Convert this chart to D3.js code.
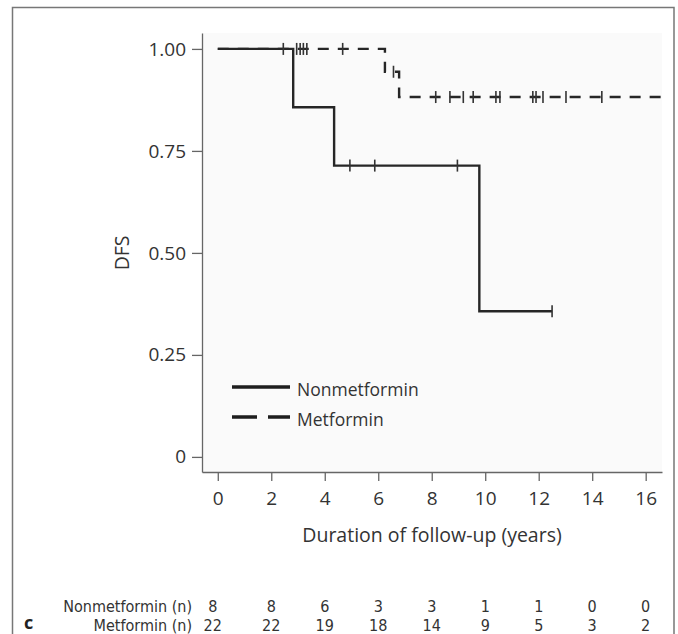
<!DOCTYPE html>
<html>
<head>
<meta charset="utf-8">
<script src="https://cdn.jsdelivr.net/npm/d3@7"></script>
<style>
  body { margin: 0; background: #fff; }
  svg { display: block; }
  .axis text { font-family: "Open Sans", sans-serif; font-size: 19px; fill: #333; }
  .axis path, .axis line { stroke: #666; stroke-width: 1.3px; }
  .lbl { font-family: "Open Sans", sans-serif; font-size: 19.5px; fill: #333; }
  .risk { font-family: "Liberation Sans Narrow", "DejaVu Sans Condensed", sans-serif; font-stretch: condensed; font-size: 16px; fill: #333; }
</style>
</head>
<body>
<svg id="chart"></svg>
<script>
// x axis ticks (years) and y axis ticks (DFS)
const timeTicks = [0, 2, 4, 6, 8, 10, 12, 14, 16];
const survTicks = [0, 0.25, 0.5, 0.75, 1];
const groups = ['Nonmetformin', 'Metformin'];

// Kaplan-Meier step points
const nonmetSteps = [
  { t: 0, s: 1 }, { t: 2.82, s: 0.857 }, { t: 4.35, s: 0.714 },
  { t: 9.78, s: 0.357 }, { t: 12.5, s: 0.357 }
];
const metSteps = [
  { t: 0, s: 1 }, { t: 6.25, s: 0.944 }, { t: 6.78, s: 0.882 }, { t: 16.6, s: 0.882 }
];

// censored observations
const nonmetCensored = [2.45, 4.94, 5.87, 8.96, 12.5];
const metCensored = [2.95, 3.08, 3.2, 3.33, 4.67, 6.57, 8.15, 8.68, 9.18, 9.55,
  10.4, 10.55, 11.78, 11.9, 12.16, 13.02, 14.36];

// numbers at risk at each x tick
const nonmetAtRisk = [8, 8, 6, 3, 3, 1, 1, 0, 0];
const metAtRisk = [22, 22, 19, 18, 14, 9, 5, 3, 2];

const width = 678, height = 634;
const svg = d3.select('#chart').attr('width', width).attr('height', height);

// outer frame (bottom edge cut off)
svg.append('path')
  .attr('d', `M12.5,634 V7.5 H674 V634`)
  .attr('fill', 'none')
  .attr('stroke', '#777')
  .attr('stroke-width', 1.5);

const xScale = d3.scaleLinear().domain([-0.59, 16.61]).range([202, 662]);
const yScale = d3.scaleLinear().domain([-0.037, 1.039]).range([472, 33]);

// plot background
svg.append('rect')
  .attr('x', xScale.range()[0]).attr('y', yScale.range()[1])
  .attr('width', xScale.range()[1] - xScale.range()[0])
  .attr('height', yScale.range()[0] - yScale.range()[1])
  .attr('fill', '#fafafa');

const xAxis = d3.axisBottom(xScale).tickValues(timeTicks)
  .tickSize(9).tickSizeOuter(0).tickPadding(11).tickFormat(d3.format('d'));
const yAxis = d3.axisLeft(yScale).tickValues(survTicks)
  .tickSize(10).tickSizeOuter(0).tickPadding(6)
  .tickFormat(d => d === 0 ? '0' : d3.format('.2f')(d));

svg.append('g').attr('class', 'axis')
  .attr('transform', `translate(0,${yScale.range()[0]})`)
  .call(xAxis);
svg.append('g').attr('class', 'axis')
  .attr('transform', `translate(${xScale.range()[0]},0)`)
  .call(yAxis);

// axis titles
svg.append('text').attr('class', 'lbl')
  .attr('x', 432).attr('y', 542).attr('text-anchor', 'middle')
  .text('Duration of follow-up (years)');
svg.append('text').attr('class', 'lbl')
  .attr('transform', `translate(129,${yScale(0.5)}) rotate(-90)`)
  .attr('text-anchor', 'middle')
  .text('DFS');

const line = d3.line()
  .curve(d3.curveStepAfter)
  .x(d => xScale(d.t))
  .y(d => yScale(d.s));

const series = [
  { name: groups[0], steps: nonmetSteps, censored: nonmetCensored, dash: null },
  { name: groups[1], steps: metSteps, censored: metCensored, dash: '11,9' }
];

const bisect = d3.bisector(d => d.t).right;
const survAt = (steps, t) => steps[Math.max(0, bisect(steps, t) - 1)].s;

const curves = svg.append('g');
series.slice().reverse().forEach(sr => {
  curves.append('path')
    .attr('d', line(sr.steps))
    .attr('fill', 'none')
    .attr('stroke', '#262626')
    .attr('stroke-width', 2.4)
    .attr('stroke-dasharray', sr.dash);

  curves.selectAll(null)
    .data(sr.censored)
    .enter()
    .append('line')
    .attr('x1', d => xScale(d)).attr('x2', d => xScale(d))
    .attr('y1', d => yScale(survAt(sr.steps, d)) - 6)
    .attr('y2', d => yScale(survAt(sr.steps, d)) + 6)
    .attr('stroke', '#333')
    .attr('stroke-width', 1.6);
});

// legend
const legend = svg.append('g').attr('transform', 'translate(232,387)');
series.forEach((sr, i) => {
  const g = legend.append('g').attr('transform', `translate(0,${i * 30})`);
  g.append('line')
    .attr('x1', 0).attr('x2', 58)
    .attr('stroke', '#1e1e1e').attr('stroke-width', 3.5)
    .attr('stroke-dasharray', sr.dash ? '25,11' : null);
  g.append('text').attr('class', 'lbl')
    .attr('x', 65).attr('y', 5).attr('dy', '0.2em')
    .style('font-size', '17.5px')
    .text(sr.name);
});

// numbers at risk table
const riskRows = [
  { label: 'Nonmetformin (n)', values: nonmetAtRisk, y: 612 },
  { label: 'Metformin (n)', values: metAtRisk, y: 631 }
];
riskRows.forEach(r => {
  svg.append('text').attr('class', 'risk')
    .attr('x', 192).attr('y', r.y).attr('text-anchor', 'end')
    .text(r.label);
  svg.selectAll(null)
    .data(r.values)
    .enter()
    .append('text').attr('class', 'risk')
    .attr('x', (d, i) => xScale(timeTicks[i]) - (i === 0 ? 5 : 0))
    .attr('y', r.y).attr('text-anchor', 'middle')
    .text(d => d);
});

svg.append('text')
  .attr('x', 24).attr('y', 629)
  .attr('font-family', '"Open Sans", sans-serif')
  .attr('font-weight', 'bold').attr('font-size', 18).attr('fill', '#222')
  .text('c');
</script>
</body>
</html>
